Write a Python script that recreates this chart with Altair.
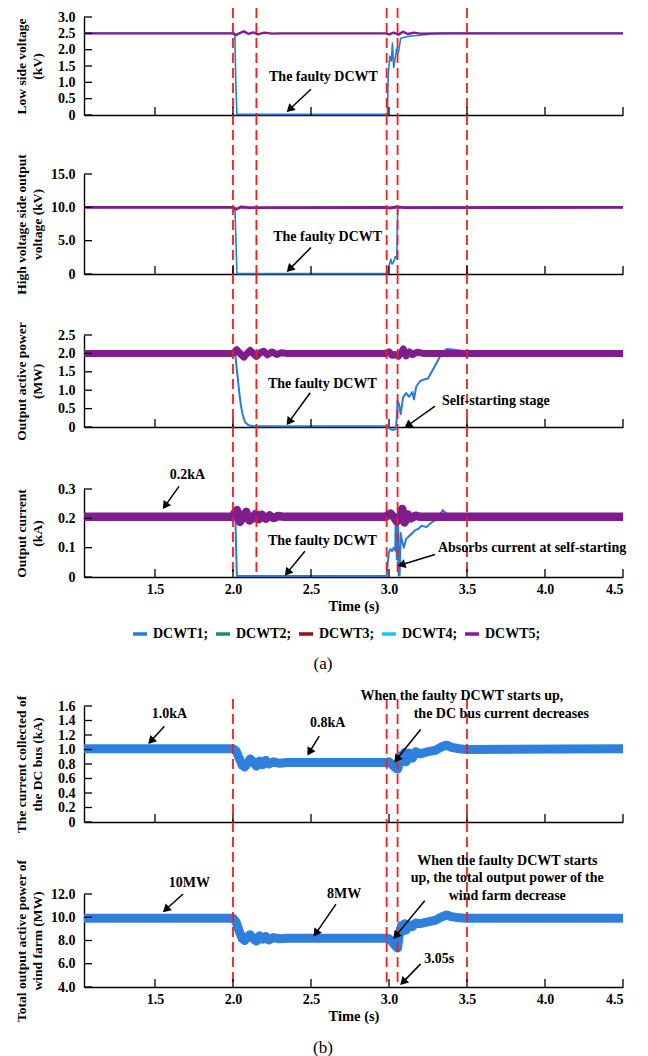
import math
import altair as alt
import pandas as pd

FONT = "Liberation Serif"
X0, X1 = 1.045, 4.5
PLOT_W = 539

SERIES = ["DCWT1", "DCWT2", "DCWT3", "DCWT4", "DCWT5"]
COLORS = ["#2a7ad5", "#1e9052", "#8e1212", "#12c4f0", "#7e1e8c"]
RED = "#f21e1e"
BUS_BLUE = "#2f80dc"

DASH_A = [2.0, 2.15, 2.985, 3.055, 3.5]
DASH_B = [2.0, 2.985, 3.055, 3.5]
X_TICKS = [1.5, 2.0, 2.5, 3.0, 3.5, 4.0, 4.5]

# ---- (a) Low side voltage (kV)
LV_T1 = [1.045, 2.012, 2.018, 2.025, 2.99, 2.995, 3.005, 3.015, 3.022, 3.03, 3.04, 3.05, 3.06, 3.075, 3.1, 3.14, 3.2, 3.27, 3.35, 4.5]
LV_V1 = [2.5, 2.5, 1.0, 0.02, 0.02, 1.2, 1.8, 1.65, 2.2, 1.45, 1.75, 2.05, 1.9, 2.35, 2.38, 2.42, 2.44, 2.48, 2.5, 2.5]
LV_T5 = [1.045, 2.0, 2.02, 2.04, 2.07, 2.1, 2.13, 2.16, 2.2, 2.25, 2.3, 2.98, 3.0, 3.03, 3.06, 3.09, 3.12, 3.16, 3.2, 3.3, 4.5]
LV_V5 = [2.5, 2.5, 2.45, 2.5, 2.56, 2.48, 2.53, 2.47, 2.52, 2.49, 2.5, 2.5, 2.47, 2.52, 2.46, 2.55, 2.48, 2.52, 2.49, 2.5, 2.5]

# ---- High voltage side output voltage (kV)
HV_T1 = [1.045, 2.012, 2.018, 2.025, 2.99, 2.995, 3.005, 3.012, 3.02, 3.03, 3.04, 3.05, 3.056, 3.06, 4.5]
HV_V1 = [10.0, 10.0, 6.0, 0.05, 0.05, 0.8, 1.6, 2.2, 1.5, 1.8, 2.6, 2.3, 9.8, 10.0, 10.0]
HV_T5 = [1.045, 2.0, 2.02, 2.05, 2.1, 2.98, 3.0, 3.05, 3.1, 4.5]
HV_V5 = [10.0, 10.0, 9.7, 10.05, 9.95, 10.0, 9.9, 10.05, 9.95, 10.0]

# ---- Output active power (MW)
P_T1 = [1.045, 2.015, 2.02, 2.03, 2.04, 2.05, 2.06, 2.07, 2.08, 2.1, 2.13, 2.98, 2.995, 3.01, 3.03, 3.045, 3.05, 3.055, 3.065, 3.075,
        3.09, 3.11, 3.13, 3.15, 3.16, 3.175, 3.2, 3.23, 3.25, 3.28, 3.31, 3.34, 3.37, 3.42, 3.5, 4.5]
P_V1 = [2.0, 2.0, 1.75, 1.35, 0.95, 0.6, 0.38, 0.22, 0.12, 0.05, 0.02, 0.02, -0.02, -0.06, -0.08, -0.05, 0.3, 0.72, 0.6, 0.35,
        0.8, 0.92, 0.82, 0.95, 0.75, 1.1, 1.25, 1.3, 1.32, 1.55, 1.78, 2.02, 2.12, 2.1, 2.05, 2.0]
P_T5 = [1.045, 2.0, 2.024, 2.045, 2.07, 2.09, 2.11, 2.13, 2.15, 2.175, 2.197, 2.22, 2.25, 2.28, 2.31, 2.35, 2.98, 3.0, 3.02, 3.04,
        3.06, 3.075, 3.092, 3.11, 3.13, 3.15, 3.18, 3.22, 4.5]
P_V5 = [2.0, 2.0, 2.1, 2.0, 1.9, 2.0, 2.08, 2.0, 1.92, 2.02, 2.06, 1.96, 2.04, 1.97, 2.02, 2.0, 2.0, 2.04, 1.95, 1.97,
        1.92, 2.0, 2.12, 1.93, 2.04, 1.97, 2.03, 2.0, 2.0]

# ---- Output current (kA)
I_T1 = [1.045, 2.015, 2.02, 2.025, 2.985, 2.992, 3.0, 3.01, 3.02, 3.03, 3.04, 3.043, 3.047, 3.05, 3.055, 3.058, 3.062, 3.068, 3.075,
        3.085, 3.095, 3.11, 3.13, 3.15, 3.17, 3.19, 3.21, 3.24, 3.27, 3.3, 3.33, 3.345, 3.37, 3.4, 3.45, 3.5, 4.5]
I_V1 = [0.205, 0.205, 0.1, 0.003, 0.003, 0.05, 0.085, 0.095, 0.088, 0.1, 0.09, 0.21, 0.21, 0.06, 0.06, 0.21, 0.005, 0.005, 0.15,
        0.12, 0.1, 0.13, 0.14, 0.15, 0.16, 0.165, 0.175, 0.17, 0.185, 0.195, 0.215, 0.228, 0.215, 0.21, 0.205, 0.205, 0.205]
I_T5 = [1.045, 2.0, 2.01, 2.025, 2.045, 2.065, 2.085, 2.105, 2.125, 2.145, 2.165, 2.185, 2.21, 2.235, 2.26, 2.29, 2.33, 2.98, 2.995,
        3.01, 3.03, 3.05, 3.07, 3.085, 3.1, 3.12, 3.14, 3.17, 3.2, 4.5]
I_V5 = [0.205, 0.205, 0.218, 0.228, 0.188, 0.205, 0.222, 0.193, 0.2, 0.215, 0.197, 0.212, 0.199, 0.21, 0.201, 0.208, 0.205, 0.205, 0.212,
        0.216, 0.205, 0.19, 0.2, 0.232, 0.186, 0.213, 0.2, 0.209, 0.205, 0.205]

# ---- (b) DC bus current (kA) and total power (MW)
BUS_T = [1.045, 2.0, 2.02, 2.04, 2.06, 2.075, 2.09, 2.11, 2.13, 2.15, 2.17, 2.19, 2.21, 2.23, 2.26, 2.3, 2.35, 2.98, 3.0, 3.02,
         3.04, 3.055, 3.065, 3.08, 3.09, 3.1, 3.11, 3.13, 3.15, 3.17, 3.2, 3.25, 3.3, 3.34, 3.37, 3.4, 3.45, 3.5, 4.5]
DC_V = [1.01, 1.01, 0.98, 0.88, 0.78, 0.76, 0.8, 0.87, 0.83, 0.77, 0.84, 0.79, 0.85, 0.8, 0.83, 0.81, 0.82, 0.82, 0.83, 0.79,
        0.75, 0.73, 0.8, 0.92, 0.85, 0.96, 0.83, 0.95, 0.88, 0.97, 0.94, 0.97, 0.99, 1.04, 1.06, 1.03, 1.01, 1.0, 1.01]
PW_V = [9.92, 9.92, 9.6, 8.8, 8.15, 8.0, 8.3, 8.5, 8.15, 7.95, 8.4, 8.1, 8.35, 8.05, 8.25, 8.15, 8.2, 8.2, 8.15, 7.9,
        7.55, 7.35, 8.4, 9.3, 8.8, 9.45, 8.9, 9.35, 9.2, 9.5, 9.45, 9.6, 9.75, 10.05, 10.2, 10.05, 9.95, 9.92, 9.92]

# ---- annotations: (label, t, v) and arrows (tail t, tail v, head t, head v)
TXT_LV = [("The faulty DCWT", 2.58, 1.15)]
ARR_LV = [(2.50, 0.79, 2.342, 0.08)]
TXT_HV = [("The faulty DCWT", 2.607, 5.6)]
ARR_HV = [(2.50, 3.97, 2.342, 0.25)]
TXT_P = [("The faulty DCWT", 2.573, 1.18), ("Self-starting stage", 3.685, 0.70)]
ARR_P = [(2.495, 0.93, 2.342, 0.04), (3.295, 0.57, 3.097, -0.03)]
TXT_I = [("0.2kA", 1.708, 0.349), ("The faulty DCWT", 2.573, 0.122), ("Absorbs current at self-starting", 3.917, 0.10)]
ARR_I = [(1.654, 0.309, 1.548, 0.23), (2.461, 0.088, 2.33, 0.003), (3.295, 0.077, 3.052, 0.037)]
TXT_DC = [("1.0kA", 1.593, 1.485), ("0.8kA", 2.607, 1.37),
          ("When the faulty DCWT starts up,", 3.467, 1.74), ("the DC bus current decreases", 3.72, 1.485)]
ARR_DC = [(1.56, 1.32, 1.455, 1.07), (2.553, 1.185, 2.475, 0.91), (3.203, 1.277, 3.031, 0.816)]
TXT_PW = [("10MW", 1.72, 12.92), ("8MW", 2.713, 12.0), ("When the faulty DCWT starts", 3.758, 14.8),
          ("up, the total output power of the", 3.758, 13.36), ("wind farm decrease", 3.758, 11.86), ("3.05s", 3.322, 6.42)]
ARR_PW = [(1.68, 12.0, 1.548, 10.41), (2.66, 11.13, 2.515, 8.30), (3.229, 11.42, 3.025, 8.1), (3.203, 5.99, 3.07, 4.14)]

color_scale = alt.Scale(domain=SERIES, range=COLORS)
xs = alt.Scale(domain=[X0, X1], nice=False, zero=False)

LEGEND = alt.Legend(orient="none", legendX=47, legendY=617, direction="horizontal", title=None,
                    symbolType="stroke", symbolStrokeWidth=3.5, symbolSize=196,
                    labelFont=FONT, labelFontWeight="bold", labelFontSize=14, labelColor="black",
                    labelExpr="datum.label + ';'", columnPadding=0, labelOffset=4)


def sdf(t, v, name):
    return pd.DataFrame({"t": t, "v": v, "series": name, "i": list(range(len(t)))})


def make_panel(cfg):
    H, top, dom = cfg["H"], cfg["top"], cfg["dom"]
    ys = alt.Scale(domain=dom, range=[H, top], nice=False, zero=False)
    if cfg["xlabels"]:
        xaxis = alt.Axis(values=X_TICKS, labelExpr="format(datum.value, '.1f')", title="Time (s)",
                         titleFontSize=14.5, titlePadding=3, labelPadding=5, ticks=False)
    else:
        xaxis = alt.Axis(values=X_TICKS, labels=False, ticks=False, title=None)
    yaxis = alt.Axis(values=cfg["yticks"], title=cfg["title"], ticks=False,
                     labelExpr="datum.value == 0 ? '0' : format(datum.value, '.1f')",
                     titleX=-70, titleBaseline="top", titleAngle=270, titleLineHeight=16, labelPadding=9)

    def X(field):
        return alt.X(field, scale=xs, axis=xaxis)

    def Y(field):
        return alt.Y(field, scale=ys, axis=yaxis)

    layers = []
    first = True
    for (t, v, name, color, w) in cfg["lines"]:
        df = sdf(t, v, name)
        enc = dict(x=X("t:Q"), y=Y("v:Q"), order=alt.Order("i:Q"))
        if name is not None:
            enc["color"] = alt.Color("series:N", scale=color_scale,
                                     legend=LEGEND if (cfg.get("legend") and first) else None)
            mark = alt.Chart(df).mark_line(strokeWidth=w, strokeJoin="round")
        else:
            mark = alt.Chart(df).mark_line(strokeWidth=w, color=color, strokeJoin="round")
        layers.append(mark.encode(**enc))
        first = False

    # dashed event lines
    layers.append(
        alt.Chart(pd.DataFrame({"t": cfg["dash"]})).mark_rule(color=RED, strokeDash=[10, 5], strokeWidth=1.8)
        .encode(x=X("t:Q"), y=alt.value(cfg["rule_top"]), y2=alt.value(H))
    )
    # inward ticks
    layers.append(
        alt.Chart(pd.DataFrame({"t": X_TICKS})).mark_rule(color="black", strokeWidth=1.3)
        .encode(x=X("t:Q"), y=alt.value(H - 8), y2=alt.value(H))
    )
    layers.append(
        alt.Chart(pd.DataFrame({"v": cfg["yticks"]})).mark_rule(color="black", strokeWidth=1.3)
        .encode(y=Y("v:Q"), x=alt.value(0), x2=alt.value(8))
    )
    # annotation text
    tdf = pd.DataFrame(cfg["texts"], columns=["label", "t", "v"])
    layers.append(
        alt.Chart(tdf).mark_text(font=FONT, fontWeight="bold", fontSize=14, color="black",
                                 align="center", baseline="middle")
        .encode(x=X("t:Q"), y=Y("v:Q"), text="label:N")
    )
    # arrows
    sx = PLOT_W / (X1 - X0)
    sy = (H - top) / (dom[1] - dom[0])
    rows = []
    for (t1, v1, t2, v2) in cfg["arrows"]:
        dx = (t2 - t1) * sx
        dy = -(v2 - v1) * sy
        L = math.hypot(dx, dy)
        ux, uy = dx / L, dy / L
        ang = math.degrees(math.atan2(dx, -dy)) % 360
        hc_t = t2 - ux * 4.5 / sx
        hc_v = v2 + uy * 4.5 / sy
        rows.append({"t": t1, "v": v1, "t2": hc_t, "v2": hc_v, "ang": ang})
    adf = pd.DataFrame(rows)
    layers.append(
        alt.Chart(adf).mark_rule(color="black", strokeWidth=1.5)
        .encode(x=X("t:Q"), y=Y("v:Q"), x2="t2:Q", y2="v2:Q")
    )
    adf2 = pd.DataFrame({"t": adf["t2"], "v": adf["v2"], "ang": adf["ang"]})
    layers.append(
        alt.Chart(adf2).mark_point(shape="triangle-up", filled=True, size=85, color="black", opacity=1)
        .encode(x=X("t:Q"), y=Y("v:Q"), angle=alt.Angle("ang:Q", scale=None))
    )
    for (lab, xv, yv, size) in cfg.get("captions", []):
        layers.append(
            alt.Chart(pd.DataFrame({"label": [lab]})).mark_text(font=FONT, fontSize=size, color="black",
                                                                align="center", baseline="middle")
            .encode(text="label:N", x=alt.value(xv), y=alt.value(yv))
        )
    return alt.layer(*layers).properties(width=PLOT_W, height=H)


PANELS = [
    dict(H=107, top=9, rule_top=0, dom=[0, 3.0], yticks=[0, 0.5, 1.0, 1.5, 2.0, 2.5, 3.0],
         title=["Low side voltage", "(kV)"], xlabels=False, dash=DASH_A, legend=True,
         lines=[(LV_T1, LV_V1, "DCWT1", None, 1.6), (LV_T5, LV_V5, "DCWT5", None, 2.4)],
         texts=TXT_LV, arrows=ARR_LV),
    dict(H=159, top=59, rule_top=0, dom=[0, 15.0], yticks=[0, 5.0, 10.0, 15.0],
         title=["High voltage side output", "voltage (kV)"], xlabels=False, dash=DASH_A,
         lines=[(HV_T1, HV_V1, "DCWT1", None, 1.6), (HV_T5, HV_V5, "DCWT5", None, 2.8)],
         texts=TXT_HV, arrows=ARR_HV),
    dict(H=153, top=61, rule_top=0, dom=[0, 2.5], yticks=[0, 0.5, 1.0, 1.5, 2.0, 2.5],
         title=["Output active power", "(MW)"], xlabels=False, dash=DASH_A,
         lines=[(P_T1, P_V1, "DCWT1", None, 2.0), (P_T5, P_V5, "DCWT5", None, 7)],
         texts=TXT_P, arrows=ARR_P),
    dict(H=150, top=62, rule_top=0, dom=[0, 0.3], yticks=[0, 0.1, 0.2, 0.3],
         title=["Output current", "(kA)"], xlabels=True, dash=DASH_A,
         lines=[(I_T1, I_V1, "DCWT1", None, 2.0), (I_T5, I_V5, "DCWT5", None, 8.5)],
         texts=TXT_I, arrows=ARR_I),
    dict(H=245, top=129, rule_top=122, dom=[0, 1.6], yticks=[0, 0.2, 0.4, 0.6, 0.8, 1.0, 1.2, 1.4, 1.6],
         title=["The current collected of", "the DC bus (kA)"], xlabels=False, dash=DASH_B,
         lines=[(BUS_T, DC_V, None, BUS_BLUE, 9)],
         texts=TXT_DC, arrows=ARR_DC, captions=[("(a)", 239, 87, 17)]),
    dict(H=165, top=72, rule_top=0, dom=[4.0, 12.0], yticks=[4.0, 6.0, 8.0, 10.0, 12.0],
         title=["Total output active power of", "wind farm (MW)"], xlabels=True, dash=DASH_B,
         lines=[(BUS_T, PW_V, None, BUS_BLUE, 9)],
         texts=TXT_PW, arrows=ARR_PW, captions=[("(b)", 239, 226, 17)]),
]

chart = (
    alt.vconcat(*[make_panel(p) for p in PANELS], spacing=0, bounds="flush")
    .properties(padding={"left": 14, "top": 7, "right": 4, "bottom": 2})
    .configure_view(stroke=None)
    .configure_axis(labelFont=FONT, labelFontWeight="bold", labelFontSize=14, labelColor="black",
                    titleFont=FONT, titleFontWeight="bold", titleFontSize=13.5, titleColor="black",
                    domainColor="black", domainWidth=1.4, grid=False)
)

chart.save("out.html", embed_options={"renderer": "svg", "actions": False})
